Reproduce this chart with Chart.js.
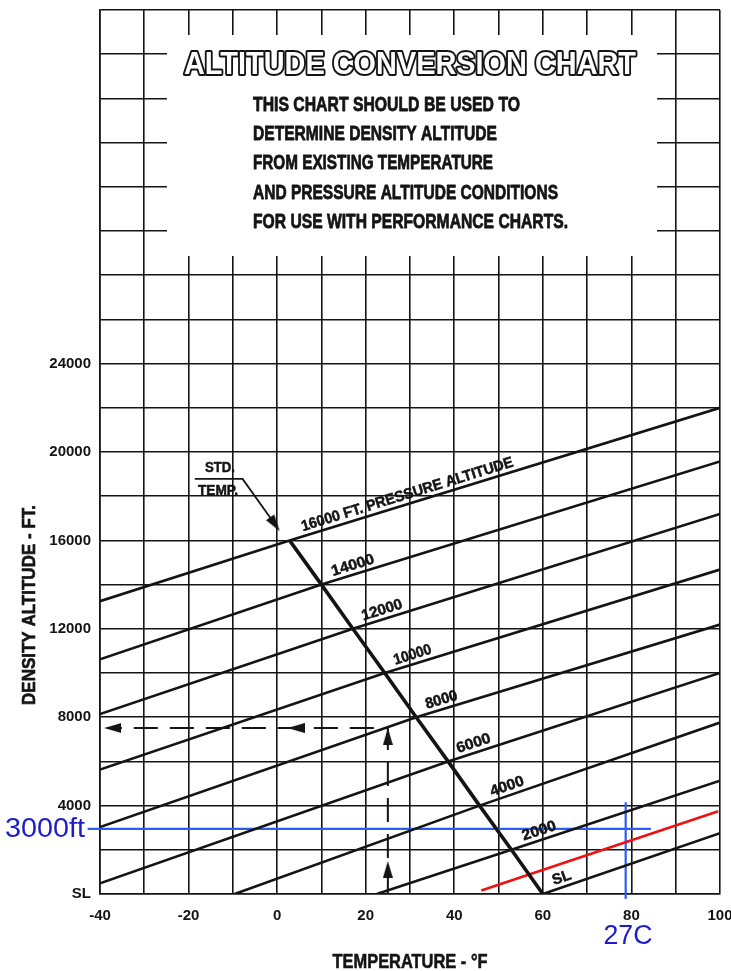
<!DOCTYPE html>
<html>
<head>
<meta charset="utf-8">
<title>Altitude Conversion Chart</title>
<script src="https://cdn.jsdelivr.net/npm/chart.js@4.4.1/dist/chart.umd.min.js"></script>
<style>
  html, body { margin: 0; padding: 0; background: #fff; }
  #wrap { width: 731px; height: 971px; }
</style>
</head>
<body>
<div id="wrap"><canvas id="chart" width="731" height="971"></canvas></div>
<script>
// values: temperature in °F, density altitude in ft
const altTickValues = [0, 4000, 8000, 12000, 16000, 20000, 24000]
const altTickLabels = ['SL', '4000', '8000', '12000', '16000', '20000', '24000']
const tempTickLabels = [-40, -20, 0, 20, 40, 60, 80, 100]

// one line per pressure altitude: where it starts, where it meets std temp, where it ends
const pressureAlt = ['SL', '2000', '4000', '6000', '8000', '10000', '12000', '14000', '16000']
const startTemp = [60, 22.5, -9.6, -40, -40, -40, -40, -40, -40]
const startAlt = [0, 0, 0, 485, 3030, 5630, 8140, 10620, 13250]
const stdTemp = [60, 52.9, 45.7, 38.6, 31.4, 24.3, 17.1, 10.0, 2.8]
const stdAlt = [0, 2000, 4000, 6000, 8000, 10000, 12000, 14000, 16000]
const endTemp = [100, 100, 100, 100, 100, 100, 100, 100, 100]
const endAlt = [2750, 5125, 7760, 10000, 12190, 14680, 17200, 19570, 22000]
const lineLabels = ['SL', '2000', '4000', '6000', '8000', '10000', '12000', '14000', '16000 FT. PRESSURE ALTITUDE']

// worked example (dashed), std temp pointer, arrowheads
const guideTemp = [25, 25, -38.5]
const guideAlt = [0, 7510, 7510]
const pointerTemp = [-18.6, -7.8, -0.5]
const pointerAlt = [18780, 18780, 16730]
const arrowTemp = [-37.1, 4.3, 25, 25, -0.5]
const arrowAlt = [7510, 7510, 7125, 1110, 16730]

// hand-drawn notes on top of the scan
const redTemp = [46.1, 99.6]
const redAlt = [163, 3740]
const blueHTemp = [-42.8, 84.4]
const blueHAlt = [2950, 2950]
const blueVTemp = [78.7, 78.7]
const blueVAlt = [4150, -230]

const INK = '#141414'
const FONT = '"Liberation Sans", Arimo, "DejaVu Sans", sans-serif'

function pts(xs, ys) {
  return xs.map(function (x, i) { return { x: x, y: ys[i] } })
}

function arrowHead(w, h) {
  var c = document.createElement('canvas')
  c.width = w
  c.height = h
  var g = c.getContext('2d')
  g.fillStyle = INK
  g.beginPath()
  g.moveTo(w / 2, 0)
  g.lineTo(w, h)
  g.lineTo(0, h)
  g.closePath()
  g.fill()
  return c
}

function fitText(ctx, str, x, y, width, size, o) {
  o = o || {}
  ctx.save()
  ctx.font = (o.weight || 'bold') + ' ' + size + 'px ' + FONT
  var w = ctx.measureText(str).width
  ctx.translate(x, y)
  if (o.angle) ctx.rotate(o.angle)
  ctx.scale(width / w, 1)
  ctx.textAlign = o.align || 'center'
  ctx.textBaseline = 'middle'
  if (o.outline) {
    ctx.lineJoin = 'round'
    ctx.lineWidth = o.outline
    ctx.strokeStyle = INK
    ctx.strokeText(str, 0, 0)
    ctx.fillStyle = '#fff'
  } else {
    ctx.fillStyle = o.color || INK
    if (o.heavy) {
      ctx.lineJoin = 'round'
      ctx.lineWidth = o.heavy
      ctx.strokeStyle = o.color || INK
      ctx.strokeText(str, 0, 0)
    }
  }
  ctx.fillText(str, 0, 0)
  ctx.restore()
}

// where a label sits along its line (temp) and how long it is (px)
const labelSpots = [
  { t: 64.9, w: 19 }, { t: 59.8, w: 35 }, { t: 52.6, w: 35 }, { t: 45.0, w: 35 },
  { t: 37.7, w: 33 }, { t: 31.2, w: 39 }, { t: 24.3, w: 42 }, { t: 17.7, w: 44 },
  { t: 30.0, w: 221 }
]
const box = { x0: 167, y0: 35, x1: 657, y1: 256 }
const bodyLines = [
  { s: 'THIS CHART SHOULD BE USED TO', y: 105, w: 267 },
  { s: 'DETERMINE DENSITY ALTITUDE', y: 134, w: 244 },
  { s: 'FROM EXISTING TEMPERATURE', y: 163, w: 240 },
  { s: 'AND PRESSURE ALTITUDE CONDITIONS', y: 193, w: 305 },
  { s: 'FOR USE WITH PERFORMANCE CHARTS.', y: 222, w: 315 }
]

var paperwork = {
  id: 'paperwork',
  beforeDatasetsDraw: function (chart) {
    var ctx = chart.ctx
    ctx.save()
    ctx.fillStyle = '#fff'
    ctx.fillRect(box.x0, box.y0, box.x1 - box.x0, box.y1 - box.y0)
    ctx.restore()
  },
  afterDatasetsDraw: function (chart) {
    var ctx = chart.ctx
    var sx = chart.scales.x
    var sy = chart.scales.y

    fitText(ctx, 'ALTITUDE CONVERSION CHART', 410, 65, 452, 31, { outline: 4 })
    bodyLines.forEach(function (l) {
      fitText(ctx, l.s, 253, l.y, l.w, 21, { align: 'left', heavy: 0.8 })
    })

    // labels riding on each pressure altitude line
    lineLabels.forEach(function (txt, i) {
      var xs = [startTemp[i], stdTemp[i], endTemp[i]]
      var ys = [startAlt[i], stdAlt[i], endAlt[i]]
      var t = labelSpots[i].t
      var k = t <= xs[1] && xs[1] > xs[0] ? 0 : 1
      var f = (t - xs[k]) / (xs[k + 1] - xs[k])
      var alt = ys[k] + f * (ys[k + 1] - ys[k])
      var px = sx.getPixelForValue(t)
      var py = sy.getPixelForValue(alt)
      var a = Math.atan2(
        sy.getPixelForValue(ys[k + 1]) - sy.getPixelForValue(ys[k]),
        sx.getPixelForValue(xs[k + 1]) - sx.getPixelForValue(xs[k])
      )
      var off = 9
      fitText(ctx, txt, px + Math.sin(a) * off, py - Math.cos(a) * off, labelSpots[i].w, 15, { angle: a, heavy: 0.5 })
    })

    fitText(ctx, 'STD.', 220, 468, 30, 14, { heavy: 0.5 })
    fitText(ctx, 'TEMP.', 218, 491, 40, 14, { heavy: 0.5 })

    fitText(ctx, 'DENSITY ALTITUDE - FT.', 30, 605, 200, 18, { angle: -Math.PI / 2, heavy: 0.6 })
    fitText(ctx, 'TEMPERATURE - °F', 410, 962, 155, 20, { heavy: 0.6 })

    fitText(ctx, '3000ft', 45, 830, 80, 27, { weight: 'normal', color: '#1c1ccc' })
    fitText(ctx, '27C', 628, 937, 49, 27, { weight: 'normal', color: '#1c1ccc' })
  }
}

var datasets = []
pressureAlt.forEach(function (p, i) {
  datasets.push({
    label: p,
    data: pts([startTemp[i], stdTemp[i], endTemp[i]], [startAlt[i], stdAlt[i], endAlt[i]]),
    borderColor: INK,
    borderWidth: 2.6,
    showLine: true,
    pointRadius: 0
  })
})
datasets.push({
  label: 'std temp',
  data: pts(stdTemp, stdAlt),
  borderColor: INK,
  borderWidth: 3.6,
  showLine: true,
  pointRadius: 0
})
datasets.push({
  label: 'example',
  data: pts(guideTemp, guideAlt),
  borderColor: INK,
  borderWidth: 2,
  borderDash: [24, 12],
  showLine: true,
  pointRadius: 0
})
datasets.push({
  label: 'pointer',
  data: pts(pointerTemp, pointerAlt),
  borderColor: INK,
  borderWidth: 1.8,
  showLine: true,
  pointRadius: 0
})
datasets.push({
  label: 'arrows',
  data: pts(arrowTemp, arrowAlt),
  showLine: false,
  pointStyle: arrowHead(10, 17),
  pointRadius: 5,
  pointRotation: [270, 270, 0, 0, 145]
})
datasets.push({
  label: 'red',
  data: pts(redTemp, redAlt),
  borderColor: '#ee1111',
  borderWidth: 2.6,
  showLine: true,
  pointRadius: 0,
  clip: false
})
datasets.push({
  label: 'blue h',
  data: pts(blueHTemp, blueHAlt),
  borderColor: '#2b5df2',
  borderWidth: 2.2,
  showLine: true,
  pointRadius: 0,
  clip: false
})
datasets.push({
  label: 'blue v',
  data: pts(blueVTemp, blueVAlt),
  borderColor: '#2b5df2',
  borderWidth: 2.2,
  showLine: true,
  pointRadius: 0,
  clip: false
})

var tickFont = { family: FONT, weight: 'bold' }

new Chart(document.getElementById('chart'), {
  type: 'scatter',
  data: { datasets: datasets },
  options: {
    responsive: false,
    devicePixelRatio: 1,
    animation: false,
    events: [],
    layout: { padding: { top: 10, right: 11, left: 0, bottom: 0 } },
    plugins: { legend: { display: false }, tooltip: { enabled: false } },
    scales: {
      x: {
        type: 'linear',
        min: -40,
        max: 100,
        border: { display: true, color: INK, width: 1.6 },
        grid: { color: INK, lineWidth: 1.6, drawTicks: false },
        ticks: {
          stepSize: 10,
          autoSkip: false,
          maxRotation: 0,
          padding: 13,
          color: INK,
          font: Object.assign({ size: 15 }, tickFont),
          callback: function (v) {
            return tempTickLabels.indexOf(v) >= 0 ? String(v) : ''
          }
        },
        afterFit: function (s) {
          s.height = 77
          s.paddingLeft = 0
          s.paddingRight = 0
        }
      },
      y: {
        type: 'linear',
        min: 0,
        max: 40000,
        border: { display: true, color: INK, width: 1.6 },
        grid: { color: INK, lineWidth: 1.6, drawTicks: false },
        ticks: {
          stepSize: 2000,
          autoSkip: false,
          padding: 9,
          color: INK,
          font: Object.assign({ size: 15 }, tickFont),
          callback: function (v) {
            var i = altTickValues.indexOf(v)
            return i >= 0 ? altTickLabels[i] : ''
          }
        },
        afterFit: function (s) {
          s.width = 100
          s.paddingTop = 0
          s.paddingBottom = 0
        }
      }
    }
  },
  plugins: [paperwork]
})
</script>
</body>
</html>
